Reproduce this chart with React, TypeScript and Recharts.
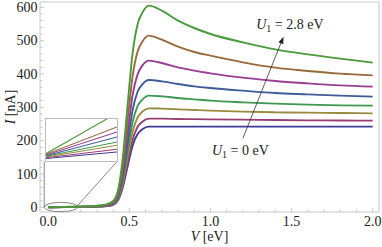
import React from 'react';
import { LineChart, Line, XAxis, YAxis, ReferenceArea, ReferenceLine, ReferenceDot } from 'recharts';

// bias voltage V [eV]
const voltages = [0, 0.1, 0.2, 0.3, 0.35, 0.4, 0.43, 0.46, 0.49, 0.52, 0.55, 0.58, 0.62, 0.7, 0.8, 0.9, 1.0, 1.2, 1.4, 1.6, 1.8, 2.0];

// current I [nA], one array per U1 (0 eV ... 2.8 eV)
const currentU0 = [0.3, 0.6, 1, 1.9, 3.1, 7.7, 21, 61, 125, 185, 219, 234, 242, 242, 242, 242, 242, 242, 242, 242, 242, 242];
const currentU1 = [0.3, 0.7, 1.1, 2.1, 3.5, 8.5, 23, 67, 137, 203, 241, 257, 266, 266, 265, 264.5, 264, 263, 262, 261, 260.5, 260];
const currentU2 = [0.35, 0.7, 1.2, 2.4, 3.9, 9.5, 25, 74, 153, 227, 269, 287, 297, 296, 294, 292, 290, 287, 285, 284, 283, 282];
const currentU3 = [0.4, 0.8, 1.3, 2.7, 4.4, 11, 28, 84, 173, 256, 303, 323, 335, 333, 328, 324, 320, 315, 311, 308, 306, 305];
const currentU4 = [0.45, 1, 1.5, 3.1, 5, 12, 32, 96, 197, 292, 346, 369, 382, 378, 370, 363, 358, 350, 343, 339, 335, 332];
const currentU5 = [0.5, 1.1, 1.8, 3.5, 5.7, 14, 37, 110, 227, 337, 398, 425, 440, 433, 420, 410, 402, 389, 379, 372, 366, 362];
const currentU6 = [0.6, 1.3, 2.1, 4.1, 6.7, 16, 44, 129, 265, 394, 466, 497, 515, 503, 482, 466, 455, 435, 419, 409, 401, 396];
const currentU7 = [0.7, 1.5, 2.4, 4.8, 7.9, 19, 51, 151, 312, 463, 548, 584, 605, 590, 560, 538, 520, 495, 474, 459, 446, 434];

const seriesList = [currentU0, currentU1, currentU2, currentU3, currentU4, currentU5, currentU6, currentU7];
const seriesColors = ['#3F3D99', '#993D71', '#998A3D', '#3D9951', '#3D5C99', '#993D95', '#99693D', '#4A993D'];

// inset (zoom of the low-bias region): values at its left and right edge
const insetX = [0, 1];
const insetLeft = [0.25, 0.33, 0.4, 0.47, 0.53, 0.6, 0.67, 0.73];
const insetRight = [0.9, 1.17, 1.57, 1.9, 2.4, 2.9, 3.4, 4.79];

const xTicks = [0, 0.1, 0.2, 0.3, 0.4, 0.5, 0.6, 0.7, 0.8, 0.9, 1.0, 1.1, 1.2, 1.3, 1.4, 1.5, 1.6, 1.7, 1.8, 1.9, 2.0];
const yTicks = [0, 20, 40, 60, 80, 100, 120, 140, 160, 180, 200, 220, 240, 260, 280, 300, 320, 340, 360, 380, 400, 420, 440, 460, 480, 500, 520, 540, 560, 580, 600];

const FONT = 'Liberation Serif, Times New Roman, Tinos, DejaVu Serif, serif';
const TEXT = '#222';
const FRAME = '#c8c8c8';

const chartData = voltages.map((v, i) => {
    const row: Record<string, number> = { v };
    seriesList.forEach((s, k) => (row['s' + k] = s[i]));
    return row;
});

const insetData = insetX.map((x, i) => {
    const row: Record<string, number> = { x };
    seriesList.forEach((_, k) => (row['s' + k] = i === 0 ? insetLeft[k] : insetRight[k]));
    return row;
});

function XTick({ x, y, payload }: any) {
    const val = payload.value as number;
    const major = Math.abs(val * 2 - Math.round(val * 2)) < 1e-6;
    return (
        <g>
            <line x1={x} x2={x} y1={y} y2={y - (major ? 4 : 2.5)} stroke={FRAME} />
            {major && (
                <text x={x} y={y + 14.3} textAnchor="middle" fontSize={14} style={{ fontFamily: FONT }} fill={TEXT}>
                    {val.toFixed(1)}
                </text>
            )}
        </g>
    );
}

function YTick({ x, y, payload }: any) {
    const val = payload.value as number;
    const major = val % 100 === 0;
    return (
        <g>
            <line x1={x} x2={x + (major ? 4 : 2.5)} y1={y} y2={y} stroke={FRAME} />
            {major && (
                <text x={x - 2.5} y={y + 4.7} textAnchor="end" fontSize={14} style={{ fontFamily: FONT }} fill={TEXT}>
                    {val}
                </text>
            )}
        </g>
    );
}

function XTitle(props: any) {
    const vb = props.viewBox || { x: 40, y: 212, width: 339, height: 35 };
    return (
        <text x={vb.x + vb.width / 2} y={vb.y + 28.5} textAnchor="middle" fontSize={14} style={{ fontFamily: FONT }} fill={TEXT}>
            <tspan fontStyle="italic">V</tspan> [eV]
        </text>
    );
}

function YTitle(props: any) {
    const vb = props.viewBox || { x: 0, y: 2, width: 40, height: 210 };
    const cy = vb.y + vb.height / 2;
    return (
        <text transform={`translate(10, ${cy}) rotate(-90)`} textAnchor="middle" dy="0.35em" fontSize={14} style={{ fontFamily: FONT }} fill={TEXT}>
            <tspan fontStyle="italic">I</tspan> [nA]
        </text>
    );
}

function Arrow({ x1, y1, x2, y2 }: any) {
    const ang = Math.atan2(y2 - y1, x2 - x1);
    const len = 7;
    const half = 2.6;
    const bx = x2 - len * Math.cos(ang);
    const by = y2 - len * Math.sin(ang);
    const px = -Math.sin(ang) * half;
    const py = Math.cos(ang) * half;
    return (
        <g>
            <line x1={x1} y1={y1} x2={bx} y2={by} stroke="#333" strokeWidth={0.8} />
            <polygon points={`${x2},${y2} ${bx + px},${by + py} ${bx - px},${by - py}`} fill="#222" />
        </g>
    );
}

function Connector({ x1, y1, x2, y2 }: any) {
    return <line x1={x1} y1={y1} x2={x2} y2={y2} stroke="#555" strokeWidth={0.7} />;
}

function EllipseShape({ x, y, width, height }: any) {
    return <ellipse cx={x + width / 2} cy={y + height / 2} rx={width / 2} ry={height / 2} fill="none" stroke="#666" strokeWidth={0.8} />;
}

function U1Label(text: string) {
    return function Label({ cx, cy }: any) {
        return (
            <text x={cx} y={cy} fontSize={14} style={{ fontFamily: FONT }} fill={TEXT}>
                <tspan fontStyle="italic">U</tspan>
                <tspan fontSize={10} dy={3}>1</tspan>
                <tspan dy={-3}>{` = ${text} eV`}</tspan>
            </text>
        );
    };
}

export default function App() {
    return (
        <div style={{ position: 'absolute', left: 0, top: 0, width: 382, height: 247, background: '#fff', fontFamily: FONT }}>
            <LineChart width={382} height={247} data={chartData} margin={{ top: 2, right: 3, bottom: 0, left: 0 }}>
                <XAxis
                    dataKey="v"
                    type="number"
                    domain={[-0.051, 2.039]}
                    allowDataOverflow
                    ticks={xTicks}
                    interval={0}
                    tick={(p: any) => <XTick {...p} />}
                    tickSize={0}
                    tickMargin={0}
                    tickLine={false}
                    axisLine={false}
                    height={35}
                    label={(p: any) => <XTitle {...p} />}
                />
                <YAxis
                    type="number"
                    domain={[-14, 616]}
                    allowDataOverflow
                    ticks={yTicks}
                    interval={0}
                    tick={(p: any) => <YTick {...p} />}
                    tickSize={0}
                    tickMargin={0}
                    tickLine={false}
                    axisLine={false}
                    width={40}
                    label={(p: any) => <YTitle {...p} />}
                />
                <ReferenceArea x1={-0.051} x2={2.039} y1={-14} y2={616} fill="none" stroke={FRAME} strokeWidth={1} />

                {seriesList.map((_, k) => (
                    <Line
                        key={k}
                        dataKey={'s' + k}
                        type="monotone"
                        stroke={seriesColors[k]}
                        strokeWidth={1.9}
                        dot={false}
                        activeDot={false}
                        isAnimationActive={false}
                    />
                ))}

                {/* zoom marker round the low-bias region and its connectors to the inset */}
                <ReferenceArea x1={-0.025} x2={0.181} y1={-13.2} y2={15} shape={(p: any) => <EllipseShape {...p} />} />
                <ReferenceLine segment={[{ x: -0.025, y: 137 }, { x: -0.025, y: 1 }]} shape={(p: any) => <Connector {...p} />} />
                <ReferenceLine segment={[{ x: 0.4236, y: 137 }, { x: 0.18, y: 5 }]} shape={(p: any) => <Connector {...p} />} />

                {/* U1 arrow and labels */}
                <ReferenceLine segment={[{ x: 1.2, y: 207 }, { x: 1.45, y: 512 }]} shape={(p: any) => <Arrow {...p} />} />
                <ReferenceDot x={1.282} y={535} r={0} shape={U1Label('2.8')} />
                <ReferenceDot x={1.009} y={157} r={0} shape={U1Label('0')} />
            </LineChart>

            <div
                style={{
                    position: 'absolute',
                    left: 44.5,
                    top: 118,
                    width: 73,
                    height: 44,
                    boxSizing: 'border-box',
                    border: '1px solid #bbb',
                    background: '#fff',
                }}
            >
                <LineChart width={71} height={42} data={insetData} margin={{ top: 0, right: 0, bottom: 0, left: 0 }}>
                    <XAxis dataKey="x" type="number" domain={[0, 1]} hide />
                    <YAxis type="number" domain={[0, 4.2]} allowDataOverflow hide />
                    {seriesList.map((_, k) => (
                        <Line
                            key={k}
                            dataKey={'s' + k}
                            type="linear"
                            stroke={seriesColors[k]}
                            strokeWidth={1.1}
                            dot={false}
                            activeDot={false}
                            isAnimationActive={false}
                        />
                    ))}
                </LineChart>
            </div>
        </div>
    );
}
